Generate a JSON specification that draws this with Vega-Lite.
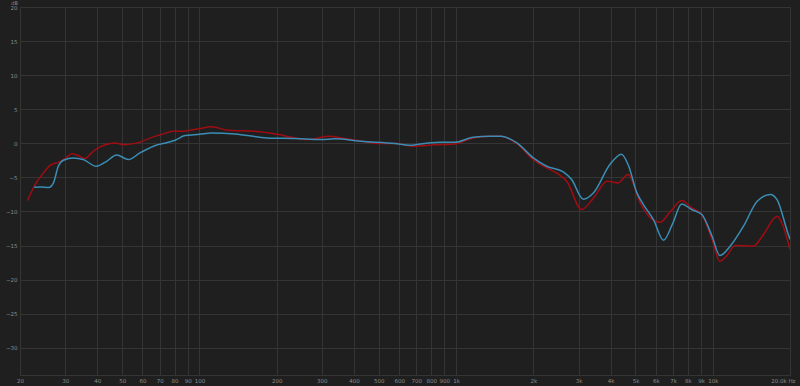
{
  "$schema": "https://vega.github.io/schema/vega-lite/v6.json",
  "width": 770,
  "height": 368,
  "autosize": "none",
  "padding": {"left": 20, "top": 7, "right": 10, "bottom": 11},
  "background": "#1f1f1f",
  "config": {
    "view": {"stroke": "#353535", "strokeWidth": 1, "fill": "#1f1f1f"},
    "axis": {"labelFont": "DejaVu Sans", "labelColor": "#8c8c8c", "labelFontSize": 5.5, "domain": false, "ticks": false, "gridColor": "#353535", "gridWidth": 1, "gridOpacity": 1}
  },
  "data": {
    "values": [
      {"f": 21.4, "db": -8.4, "s": "A"},
      {"f": 22.9, "db": -6.05, "s": "A"},
      {"f": 24.7, "db": -4.34, "s": "A"},
      {"f": 26.2, "db": -3.23, "s": "A"},
      {"f": 28.2, "db": -2.79, "s": "A"},
      {"f": 30, "db": -2.24, "s": "A"},
      {"f": 31.8, "db": -1.55, "s": "A"},
      {"f": 33.7, "db": -1.8, "s": "A"},
      {"f": 35.8, "db": -2.24, "s": "A"},
      {"f": 38, "db": -1.4, "s": "A"},
      {"f": 41, "db": -0.53, "s": "A"},
      {"f": 44.1, "db": -0.09, "s": "A"},
      {"f": 46.8, "db": 0.05, "s": "A"},
      {"f": 50.5, "db": -0.2, "s": "A"},
      {"f": 55.3, "db": -0.05, "s": "A"},
      {"f": 59.4, "db": 0.25, "s": "A"},
      {"f": 66, "db": 0.94, "s": "A"},
      {"f": 72.3, "db": 1.38, "s": "A"},
      {"f": 78.9, "db": 1.76, "s": "A"},
      {"f": 86.6, "db": 1.76, "s": "A"},
      {"f": 94.7, "db": 2.0, "s": "A"},
      {"f": 100, "db": 2.15, "s": "A"},
      {"f": 111.6, "db": 2.41, "s": "A"},
      {"f": 129.6, "db": 1.91, "s": "A"},
      {"f": 164.8, "db": 1.76, "s": "A"},
      {"f": 203, "db": 1.28, "s": "A"},
      {"f": 236, "db": 0.79, "s": "A"},
      {"f": 265, "db": 0.54, "s": "A"},
      {"f": 318, "db": 1.03, "s": "A"},
      {"f": 369, "db": 0.69, "s": "A"},
      {"f": 428, "db": 0.3, "s": "A"},
      {"f": 510, "db": -0.04, "s": "A"},
      {"f": 590, "db": -0.04, "s": "A"},
      {"f": 670, "db": -0.43, "s": "A"},
      {"f": 826, "db": -0.23, "s": "A"},
      {"f": 985, "db": -0.1, "s": "A"},
      {"f": 1166, "db": 0.79, "s": "A"},
      {"f": 1354, "db": 1.03, "s": "A"},
      {"f": 1500, "db": 1.03, "s": "A"},
      {"f": 1726, "db": -0.04, "s": "A"},
      {"f": 2000, "db": -2.39, "s": "A"},
      {"f": 2254, "db": -3.61, "s": "A"},
      {"f": 2498, "db": -4.49, "s": "A"},
      {"f": 2700, "db": -5.57, "s": "A"},
      {"f": 3085, "db": -9.72, "s": "A"},
      {"f": 3434, "db": -8.01, "s": "A"},
      {"f": 3878, "db": -5.57, "s": "A"},
      {"f": 4274, "db": -5.81, "s": "A"},
      {"f": 4680, "db": -4.59, "s": "A"},
      {"f": 5218, "db": -8.74, "s": "A"},
      {"f": 5720, "db": -10.94, "s": "A"},
      {"f": 6240, "db": -11.58, "s": "A"},
      {"f": 6860, "db": -9.97, "s": "A"},
      {"f": 7560, "db": -8.4, "s": "A"},
      {"f": 8280, "db": -9.47, "s": "A"},
      {"f": 9070, "db": -10.45, "s": "A"},
      {"f": 9940, "db": -14.12, "s": "A"},
      {"f": 10660, "db": -17.3, "s": "A"},
      {"f": 11300, "db": -16.57, "s": "A"},
      {"f": 12240, "db": -15.0, "s": "A"},
      {"f": 14370, "db": -15.1, "s": "A"},
      {"f": 15760, "db": -13.39, "s": "A"},
      {"f": 17800, "db": -10.7, "s": "A"},
      {"f": 18700, "db": -11.92, "s": "A"},
      {"f": 20000, "db": -15.6, "s": "A"},
      {"f": 22.7, "db": -6.45, "s": "B"},
      {"f": 24.3, "db": -6.4, "s": "B"},
      {"f": 25.8, "db": -6.5, "s": "B"},
      {"f": 27, "db": -5.8, "s": "B"},
      {"f": 28.2, "db": -3.37, "s": "B"},
      {"f": 29.5, "db": -2.49, "s": "B"},
      {"f": 32.3, "db": -2.14, "s": "B"},
      {"f": 35.3, "db": -2.39, "s": "B"},
      {"f": 39.6, "db": -3.37, "s": "B"},
      {"f": 43.5, "db": -2.64, "s": "B"},
      {"f": 47.6, "db": -1.7, "s": "B"},
      {"f": 52.9, "db": -2.39, "s": "B"},
      {"f": 58.7, "db": -1.41, "s": "B"},
      {"f": 68.2, "db": -0.24, "s": "B"},
      {"f": 74, "db": 0.05, "s": "B"},
      {"f": 80.5, "db": 0.44, "s": "B"},
      {"f": 87.9, "db": 1.13, "s": "B"},
      {"f": 100, "db": 1.32, "s": "B"},
      {"f": 111.6, "db": 1.52, "s": "B"},
      {"f": 137.6, "db": 1.38, "s": "B"},
      {"f": 183, "db": 0.79, "s": "B"},
      {"f": 236, "db": 0.69, "s": "B"},
      {"f": 300, "db": 0.54, "s": "B"},
      {"f": 337, "db": 0.65, "s": "B"},
      {"f": 428, "db": 0.3, "s": "B"},
      {"f": 578, "db": -0.04, "s": "B"},
      {"f": 660, "db": -0.29, "s": "B"},
      {"f": 778, "db": 0.05, "s": "B"},
      {"f": 866, "db": 0.15, "s": "B"},
      {"f": 985, "db": 0.15, "s": "B"},
      {"f": 1166, "db": 0.88, "s": "B"},
      {"f": 1354, "db": 1.03, "s": "B"},
      {"f": 1500, "db": 1.03, "s": "B"},
      {"f": 1726, "db": 0.05, "s": "B"},
      {"f": 2000, "db": -2.14, "s": "B"},
      {"f": 2254, "db": -3.37, "s": "B"},
      {"f": 2616, "db": -4.19, "s": "B"},
      {"f": 2820, "db": -5.32, "s": "B"},
      {"f": 3131, "db": -8.21, "s": "B"},
      {"f": 3434, "db": -7.27, "s": "B"},
      {"f": 3975, "db": -3.12, "s": "B"},
      {"f": 4410, "db": -1.6, "s": "B"},
      {"f": 4700, "db": -3.3, "s": "B"},
      {"f": 5056, "db": -7.2, "s": "B"},
      {"f": 5370, "db": -9.0, "s": "B"},
      {"f": 5874, "db": -11.19, "s": "B"},
      {"f": 6434, "db": -14.22, "s": "B"},
      {"f": 7000, "db": -11.67, "s": "B"},
      {"f": 7560, "db": -8.89, "s": "B"},
      {"f": 8280, "db": -9.72, "s": "B"},
      {"f": 9070, "db": -10.45, "s": "B"},
      {"f": 9940, "db": -13.63, "s": "B"},
      {"f": 10660, "db": -16.47, "s": "B"},
      {"f": 11690, "db": -15.1, "s": "B"},
      {"f": 13180, "db": -12.17, "s": "B"},
      {"f": 14900, "db": -8.5, "s": "B"},
      {"f": 16750, "db": -7.52, "s": "B"},
      {"f": 17800, "db": -8.26, "s": "B"},
      {"f": 19600, "db": -13.14, "s": "B"},
      {"f": 20000, "db": -14.1, "s": "B"}
    ]
  },
  "mark": {"type": "line", "interpolate": "monotone", "strokeWidth": 1.5, "clip": true},
  "encoding": {
    "x": {
      "field": "f", "type": "quantitative",
      "scale": {"type": "log", "domain": [20, 20000], "nice": false},
      "axis": {
        "title": null,
        "values": [20, 30, 40, 50, 60, 70, 80, 90, 100, 200, 300, 400, 500, 600, 700, 800, 900, 1000, 2000, 3000, 4000, 5000, 6000, 7000, 8000, 9000, 10000, 20000],
        "labelExpr": "datum.value == 20000 ? '20.0k Hz' : (datum.value >= 1000 ? (datum.value / 1000) + 'k' : datum.value)",
        "labelPadding": 3,
        "labelFlush": false,
        "labelOverlap": false,
        "labelAlign": {"condition": {"test": "datum.value == 20000", "value": "right"}, "value": "center"},
        "labelOffset": {"condition": {"test": "datum.value == 20000", "value": 5}, "value": 0}
      }
    },
    "y": {
      "field": "db", "type": "quantitative",
      "scale": {"domain": [-34, 20], "nice": false, "zero": false},
      "axis": {
        "values": [20, 15, 10, 5, 0, -5, -10, -15, -20, -25, -30],
        "labelPadding": 3,
        "title": "dB",
        "titleAngle": 0,
        "titleX": -6,
        "titleY": -3,
        "titleAlign": "center",
        "titleBaseline": "alphabetic",
        "titleFont": "DejaVu Sans",
        "titleFontSize": 5,
        "titleFontWeight": "normal",
        "titleColor": "#8c8c8c"
      }
    },
    "color": {
      "field": "s", "type": "nominal",
      "scale": {"domain": ["A", "B"], "range": ["#a10c12", "#3b8db5"]},
      "legend": null
    }
  }
}
